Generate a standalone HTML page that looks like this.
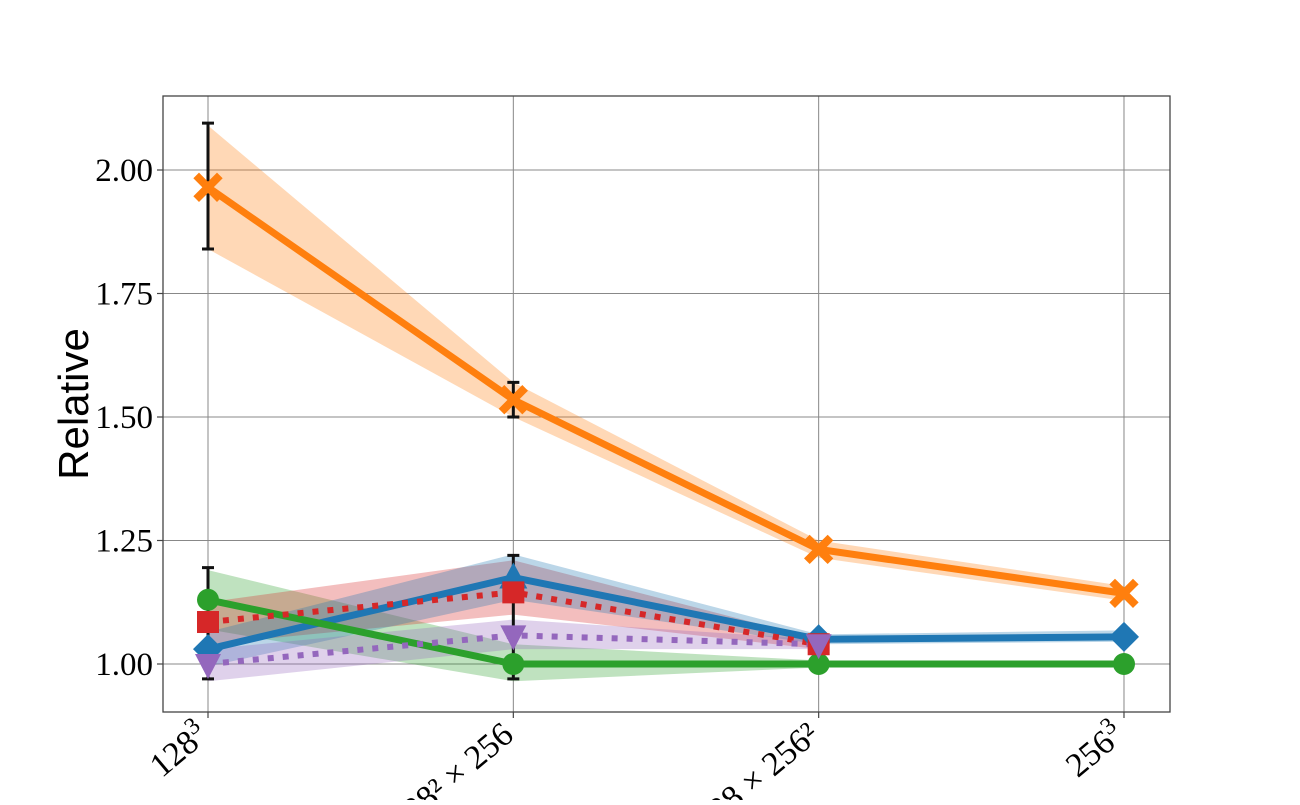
<!DOCTYPE html>
<html><head><meta charset="utf-8"><style>
body{margin:0;background:#fff}
svg text{font-family:"Liberation Serif",serif}
</style></head><body>
<svg id="chart" width="1300" height="800" xmlns="http://www.w3.org/2000/svg">
<g id="grid"></g>
<g id="bands"></g>
<g id="lines"></g>
<g id="axes"></g>
<text transform="translate(88,404) rotate(-90)" text-anchor="middle" font-size="42" style="font-family:'Liberation Sans',sans-serif">Relative</text>
</svg>
<script>
const categories=["128","128² × 256","128 × 256²","256"];
const yTicks=[1.00,1.25,1.50,1.75,2.00];
const orangeVals=[1.965,1.535,1.232,1.143];
const orangeLo=[1.84,1.50,1.215,1.128];
const orangeHi=[2.09,1.57,1.25,1.158];
const blueVals=[1.03,1.175,1.05,1.055];
const blueLo=[0.995,1.13,1.04,1.045];
const blueHi=[1.065,1.222,1.06,1.068];
const redVals=[1.085,1.145,1.04];
const redLo=[1.04,1.10,1.03];
const redHi=[1.125,1.21,1.05];
const purpleVals=[1.0,1.058,1.04];
const purpleLo=[0.965,1.03,1.03];
const purpleHi=[1.03,1.09,1.05];
const greenVals=[1.13,1.0,1.0,1.0];
const greenLo=[1.07,0.965,0.993,0.993];
const greenHi=[1.19,1.04,1.007,1.007];
const errX=[0,1];
const errLo=[[1.84,1.50],[0.97,0.97]];
const errHi=[[2.095,1.57],[1.195,1.22]];

const L=163,R=1170,T=96,B=712;
const x=i=>208+i*305.33;
const y=v=>664-(v-1)*494;
const NS="http://www.w3.org/2000/svg";
function mk(parent,tag,attrs){const e=document.createElementNS(NS,tag);for(const k in attrs)e.setAttribute(k,attrs[k]);document.getElementById(parent).appendChild(e);return e;}

categories.forEach((c,i)=>{
  const g=mk('grid','line',{x1:x(i),x2:x(i),y1:T,y2:B,stroke:'#888','stroke-width':1});
  
  
  const t=mk('axes','line',{x1:x(i),x2:x(i),y1:B,y2:B+6,stroke:'#444','stroke-width':1.2});
  
  
  const tx=mk('axes','text',{transform:`translate(${x(i)+2},${B+26}) rotate(-40)`,'text-anchor':'end','font-size':34});
  
  
  tx.textContent=c;
  if(i===0||i===3){const s=document.createElementNS(NS,'tspan');s.setAttribute('dy','-13');s.setAttribute('font-size','24');s.textContent='3';tx.appendChild(s);}
});
yTicks.forEach(v=>{
  const g=mk('grid','line',{x1:L,x2:R,y1:y(v),y2:y(v),stroke:'#888','stroke-width':1});
  
  
  const t=mk('axes','line',{x1:L-6,x2:L,y1:y(v),y2:y(v),stroke:'#444','stroke-width':1.2});
  
  
  const tx=mk('axes','text',{x:L-10,y:y(v)+11,'text-anchor':'end','font-size':33});
  
  
  tx.textContent=v.toFixed(2);
});
const frame=mk('axes','rect',{x:L,y:T,width:R-L,height:B-T,fill:'none',stroke:'#444','stroke-width':1.3});



function band(lo,hi,col,name){
  const pts=lo.map((v,i)=>x(i)+','+y(v)).concat(hi.map((v,i)=>x(i)+','+y(v)).reverse()).join(' ');
  const p=mk('bands','polygon',{points:pts,fill:col,'fill-opacity':0.3});
  
  
}
band(orangeLo,orangeHi,'#ff7f0e','orange-band');
band(greenLo,greenHi,'#2ca02c','green-band');
band(redLo,redHi,'#d62728','red-band');
band(blueLo,blueHi,'#1f77b4','blue-band');
band(purpleLo,purpleHi,'#9467bd','purple-band');

errX.forEach((xi,k)=>{
  [0,1].forEach(s=>{
    const lo=errLo[s][k],hi=errHi[s][k];
    const l=mk('lines','path',{d:`M${x(xi)},${y(lo)}V${y(hi)}M${x(xi)-6},${y(lo)}h12M${x(xi)-6},${y(hi)}h12`,stroke:'#111','stroke-width':3,fill:'none'});
    
    
  });
});

function line(vals,col,dash,name){
  const p=mk('lines','polyline',{points:vals.map((v,i)=>x(i)+','+y(v)).join(' '),fill:'none',stroke:col,'stroke-width':dash?6:7,'stroke-dasharray':dash?'6 9':'none'});
  
  
}
function marker(type,cx,cy,col,name){
  let e;
  if(type==='circle')e=mk('lines','circle',{cx,cy,r:11,fill:col});
  else if(type==='square')e=mk('lines','rect',{x:cx-11,y:cy-11,width:22,height:22,fill:col});
  else if(type==='diamond')e=mk('lines','polygon',{points:`${cx},${cy-15} ${cx+15},${cy} ${cx},${cy+15} ${cx-15},${cy}`,fill:col});
  else if(type==='tri-up')e=mk('lines','polygon',{points:`${cx},${cy-15} ${cx+14},${cy+11} ${cx-14},${cy+11}`,fill:col});
  else if(type==='tri-down')e=mk('lines','polygon',{points:`${cx},${cy+15} ${cx+13},${cy-10} ${cx-13},${cy-10}`,fill:col});
  else if(type==='x')e=mk('lines','path',{d:`M${cx-9},${cy-9}L${cx+9},${cy+9}M${cx+9},${cy-9}L${cx-9},${cy+9}`,stroke:col,'stroke-width':8,'stroke-linecap':'square'});
  
  
}
const blueMarkers=['diamond','tri-up','diamond','diamond'];
line(orangeVals,'#ff7f0e',false,'orange-line');
line(blueVals,'#1f77b4',false,'blue-line');
line(greenVals,'#2ca02c',false,'green-line');
line(redVals,'#d62728',true,'red-line');
line(purpleVals,'#9467bd',true,'purple-line');
orangeVals.forEach((v,i)=>marker('x',x(i),y(v),'#ff7f0e','orange-marker'));
blueVals.forEach((v,i)=>marker(blueMarkers[i],x(i),y(v),'#1f77b4','blue-marker'));
greenVals.forEach((v,i)=>marker('circle',x(i),y(v),'#2ca02c','green-marker'));
redVals.forEach((v,i)=>marker('square',x(i),y(v),'#d62728','red-marker'));
purpleVals.forEach((v,i)=>marker('tri-down',x(i),y(v),'#9467bd','purple-marker'));
</script>
</body></html>
